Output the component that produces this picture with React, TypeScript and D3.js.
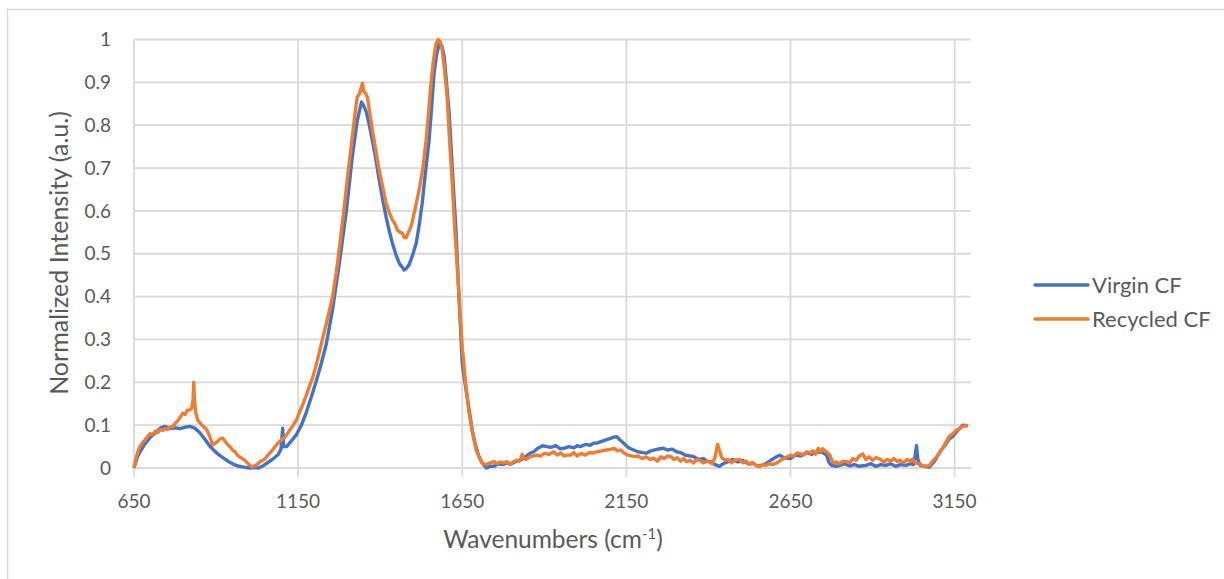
import React from "react";
import * as d3 from "d3";

const virginWave = [650,660,670,685,700,715,730,745,760,775,790,805,820,835,850,865,880,895,910,925,940,955,970,985,1000,1015,1030,1045,1060,1075,1090,1098,1103,1106,1115,1130,1145,1160,1175,1190,1206,1221,1236,1255,1276,1297,1315,1330,1343,1350,1358,1367,1376,1387,1397,1408,1418,1428,1437,1448,1458,1466,1473,1480,1488,1498,1510,1519,1528,1538,1549,1557,1564,1572,1580,1588,1595,1602,1610,1619,1625,1631,1640,1650,1658,1665,1672,1680,1690,1701,1712,1724,1735,1747,1760,1775,1786,1800,1815,1829,1845,1858,1868,1880,1895,1908,1920,1935,1948,1960,1975,1990,2000,2011,2025,2040,2050,2060,2075,2090,2102,2112,2121,2130,2136,2150,2160,2172,2185,2200,2212,2225,2240,2252,2263,2275,2290,2303,2315,2330,2345,2354,2370,2385,2395,2405,2420,2434,2445,2460,2475,2490,2505,2520,2535,2548,2560,2575,2590,2605,2617,2630,2650,2665,2680,2699,2715,2730,2748,2760,2768,2775,2790,2800,2815,2830,2845,2860,2880,2895,2910,2925,2941,2955,2970,2985,3002,3015,3025,3030,3034,3038,3045,3058,3073,3088,3104,3120,3134,3145,3160,3175,3190];
const virginValues = [0.000,0.025,0.040,0.058,0.072,0.082,0.093,0.097,0.092,0.094,0.092,0.095,0.097,0.093,0.083,0.068,0.052,0.040,0.030,0.022,0.014,0.008,0.004,0.002,0.000,0.001,0.000,0.006,0.014,0.022,0.032,0.045,0.093,0.050,0.050,0.064,0.078,0.100,0.130,0.165,0.205,0.245,0.290,0.370,0.480,0.600,0.726,0.810,0.854,0.845,0.830,0.800,0.765,0.720,0.672,0.625,0.586,0.552,0.525,0.498,0.478,0.470,0.462,0.466,0.474,0.495,0.525,0.568,0.618,0.690,0.765,0.845,0.920,0.965,0.990,0.985,0.960,0.900,0.830,0.710,0.630,0.555,0.400,0.245,0.200,0.166,0.130,0.089,0.055,0.026,0.010,0.000,0.004,0.004,0.010,0.008,0.012,0.010,0.016,0.019,0.028,0.035,0.038,0.046,0.052,0.050,0.048,0.052,0.045,0.046,0.050,0.047,0.052,0.050,0.055,0.053,0.058,0.058,0.062,0.066,0.069,0.072,0.073,0.066,0.062,0.052,0.046,0.042,0.038,0.036,0.035,0.040,0.043,0.045,0.046,0.042,0.044,0.038,0.036,0.030,0.028,0.027,0.020,0.022,0.016,0.015,0.008,0.004,0.010,0.015,0.020,0.014,0.018,0.010,0.012,0.005,0.006,0.010,0.018,0.025,0.030,0.024,0.022,0.030,0.028,0.036,0.032,0.038,0.036,0.030,0.012,0.006,0.004,0.006,0.010,0.005,0.008,0.004,0.006,0.010,0.004,0.008,0.006,0.010,0.004,0.008,0.006,0.010,0.008,0.030,0.052,0.020,0.006,0.004,0.002,0.015,0.036,0.052,0.068,0.074,0.088,0.100,0.098];

const recycledWave = [650,657,663,668,675,683,690,699,707,715,723,730,738,745,752,760,768,775,783,790,799,806,812,820,826,830,832,834,838,844,852,860,872,880,890,898,905,912,920,928,935,942,950,958,965,972,980,988,995,1003,1011,1020,1028,1035,1042,1050,1058,1065,1072,1085,1098,1110,1124,1135,1145,1154,1165,1175,1184,1194,1205,1214,1224,1240,1255,1266,1276,1287,1297,1306,1315,1323,1330,1336,1340,1346,1350,1355,1361,1368,1376,1387,1397,1408,1418,1428,1437,1445,1452,1460,1467,1473,1479,1486,1492,1497,1508,1519,1530,1540,1548,1555,1562,1570,1577,1583,1589,1596,1604,1611,1619,1626,1634,1642,1650,1660,1671,1682,1692,1702,1712,1722,1735,1747,1755,1765,1775,1786,1795,1805,1815,1822,1829,1833,1837,1845,1855,1865,1877,1888,1900,1915,1928,1940,1950,1960,1970,1980,1990,2000,2012,2025,2038,2050,2062,2075,2090,2105,2113,2122,2133,2145,2155,2172,2185,2198,2210,2222,2233,2245,2255,2265,2275,2284,2295,2305,2315,2325,2333,2345,2355,2365,2373,2385,2395,2403,2412,2420,2428,2434,2440,2450,2460,2470,2480,2495,2505,2515,2525,2535,2545,2556,2565,2575,2585,2595,2608,2620,2630,2640,2650,2660,2670,2680,2690,2700,2710,2718,2726,2735,2742,2748,2755,2762,2770,2775,2780,2790,2800,2810,2821,2830,2840,2850,2860,2870,2880,2890,2900,2910,2922,2935,2945,2955,2965,2975,2983,2995,3005,3015,3022,3030,3040,3052,3062,3073,3085,3095,3104,3115,3125,3134,3145,3155,3165,3175,3190];
const recycledValues = [0.000,0.025,0.040,0.050,0.058,0.065,0.072,0.080,0.078,0.086,0.083,0.090,0.088,0.092,0.090,0.096,0.096,0.104,0.110,0.118,0.128,0.125,0.135,0.135,0.140,0.160,0.200,0.160,0.130,0.112,0.105,0.098,0.089,0.075,0.054,0.058,0.062,0.068,0.070,0.062,0.055,0.050,0.042,0.038,0.030,0.026,0.022,0.018,0.012,0.006,0.003,0.006,0.010,0.015,0.018,0.022,0.030,0.036,0.042,0.055,0.065,0.072,0.088,0.100,0.112,0.130,0.150,0.170,0.190,0.210,0.240,0.268,0.300,0.350,0.400,0.455,0.515,0.585,0.655,0.715,0.772,0.825,0.866,0.872,0.882,0.898,0.878,0.875,0.866,0.830,0.790,0.740,0.695,0.655,0.618,0.596,0.579,0.570,0.556,0.550,0.548,0.538,0.537,0.550,0.560,0.572,0.610,0.650,0.700,0.765,0.835,0.898,0.950,0.990,1.000,0.995,0.975,0.930,0.866,0.770,0.672,0.575,0.478,0.380,0.282,0.200,0.128,0.080,0.042,0.025,0.010,0.008,0.012,0.015,0.010,0.014,0.012,0.015,0.008,0.014,0.018,0.015,0.023,0.032,0.022,0.020,0.026,0.028,0.030,0.028,0.034,0.032,0.038,0.030,0.035,0.028,0.030,0.030,0.036,0.028,0.034,0.030,0.036,0.035,0.038,0.040,0.042,0.044,0.046,0.040,0.042,0.034,0.030,0.027,0.028,0.022,0.026,0.020,0.023,0.016,0.026,0.022,0.028,0.027,0.020,0.024,0.016,0.022,0.015,0.018,0.012,0.020,0.018,0.012,0.016,0.014,0.010,0.025,0.055,0.040,0.025,0.018,0.020,0.012,0.018,0.020,0.012,0.016,0.008,0.012,0.006,0.003,0.008,0.006,0.010,0.008,0.012,0.018,0.022,0.026,0.030,0.028,0.035,0.033,0.030,0.038,0.035,0.040,0.032,0.046,0.038,0.045,0.040,0.036,0.030,0.020,0.012,0.014,0.010,0.016,0.015,0.012,0.022,0.018,0.028,0.033,0.020,0.026,0.018,0.024,0.021,0.014,0.020,0.016,0.022,0.015,0.018,0.012,0.020,0.016,0.021,0.012,0.010,0.006,0.004,0.006,0.018,0.026,0.036,0.048,0.062,0.074,0.080,0.088,0.092,0.097,0.100];

const xTicks = [650, 1150, 1650, 2150, 2650, 3150];
const yTicks = [0, 0.1, 0.2, 0.3, 0.4, 0.5, 0.6, 0.7, 0.8, 0.9, 1];
const seriesNames = ["Virgin CF", "Recycled CF"];
const seriesColors = ["#4472C4", "#ED7D31"];

const W = 1224, H = 579;
const left = 134, right = 971, top = 39.5, bottom = 468;
const FONT = "Lato, 'Open Sans', sans-serif";
const TXT = "#595959";

export default function App() {
  const x = d3.scaleLinear().domain([650, 3200]).range([left, right]);
  const y = d3.scaleLinear().domain([0, 1]).range([bottom, top]);
  const line = d3.line<[number, number]>().x(d => x(d[0])).y(d => y(d[1]));
  const series = [
    virginWave.map((w, i) => [w, virginValues[i]] as [number, number]),
    recycledWave.map((w, i) => [w, recycledValues[i]] as [number, number]),
  ];
  return (
    <svg width={W} height={H} style={{ position: "fixed", left: 0, top: 0, background: "#fff" }} fontFamily={FONT}>
      <rect x={0} y={0} width={W} height={H} fill="#fff" />
      <rect x={7.5} y={9.5} width={1240} height={600} fill="none" stroke="#d9d9d9" strokeWidth={1.5} />
      {yTicks.map(t => (
        <line key={"h" + t} x1={left} x2={right} y1={y(t)} y2={y(t)} stroke="#d9d9d9" strokeWidth={1.8} />
      ))}
      {xTicks.map(t => (
        <line key={"v" + t} x1={x(t)} x2={x(t)} y1={top} y2={bottom + 9} stroke="#d9d9d9" strokeWidth={1.8} />
      ))}
      {yTicks.map(t => (
        <text key={"yt" + t} x={111} y={y(t)} dy="0.35em" textAnchor="end" fontSize={19} fill={TXT}>{d3.format("~g")(t)}</text>
      ))}
      {xTicks.map(t => (
        <text key={"xt" + t} x={x(t)} y={508} textAnchor="middle" fontSize={19} fill={TXT}>{t}</text>
      ))}
      <text x={553} y={548} textAnchor="middle" fontSize={24.5} fill={TXT}>
        Wavenumbers (cm<tspan dy={-9} fontSize={15}>-1</tspan><tspan dy={9}>)</tspan>
      </text>
      <text transform={`translate(68,253) rotate(-90)`} textAnchor="middle" fontSize={25} fill={TXT}>Normalized Intensity (a.u.)</text>
      {series.map((s, i) => (
        <path key={"s" + i} d={line(s) || ""} fill="none" stroke={seriesColors[i]} strokeWidth={3.4} strokeLinejoin="round" />
      ))}
      {seriesNames.map((n, i) => (
        <g key={"lg" + i}>
          <line x1={1035} x2={1088} y1={285 + i * 34} y2={285 + i * 34} stroke={seriesColors[i]} strokeWidth={3.5} strokeLinecap="round" />
          <text x={1092} y={285 + i * 34} dy="0.35em" fontSize={22} fill={TXT}>{n}</text>
        </g>
      ))}
    </svg>
  );
}
